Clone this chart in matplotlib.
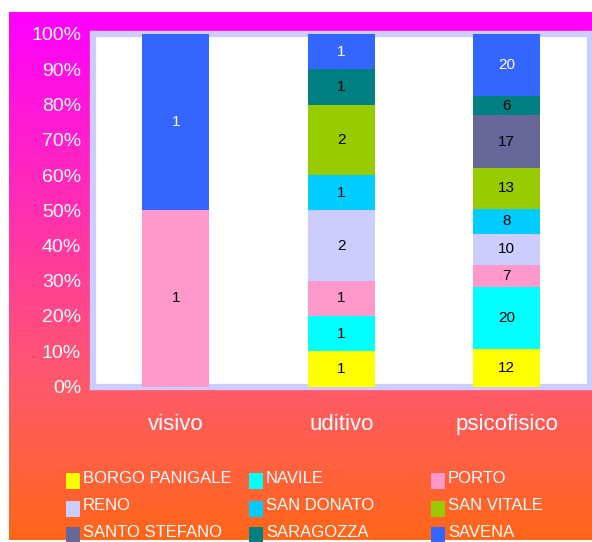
import numpy as np
import matplotlib
matplotlib.use('Agg')
import matplotlib.pyplot as plt
from matplotlib.colors import LinearSegmentedColormap
from matplotlib.patches import Rectangle

categories = ['visivo', 'uditivo', 'psicofisico']
zones = ['BORGO PANIGALE', 'NAVILE', 'PORTO', 'RENO', 'SAN DONATO',
         'SAN VITALE', 'SANTO STEFANO', 'SARAGOZZA', 'SAVENA']

# conteggi per zona (visivo, uditivo, psicofisico)
borgo_panigale = [0, 1, 12]
navile = [0, 1, 20]
porto = [1, 1, 7]
reno = [0, 2, 10]
san_donato = [0, 1, 8]
san_vitale = [0, 2, 13]
santo_stefano = [0, 0, 17]
saragozza = [0, 1, 6]
savena = [1, 1, 20]

colors = ['#FFFF00', '#00FFFF', '#FF99CC', '#CCCCFF', '#00CCFF',
          '#99CC00', '#666699', '#008080', '#3366FF']

series = [borgo_panigale, navile, porto, reno, san_donato,
          san_vitale, santo_stefano, saragozza, savena]

W, H = 592, 542
plt.rcParams['font.family'] = ['Liberation Sans', 'DejaVu Sans']


def px(x0, y0, x1, y1):
    return [x0 / W, 1 - y1 / H, (x1 - x0) / W, (y1 - y0) / H]


fig = plt.figure(figsize=(W / 100, H / 100), dpi=100)

# sfondo sfumato
bg = fig.add_axes(px(9, 12, 592, 540), zorder=-5)
cmap = LinearSegmentedColormap.from_list(
    'bg', [(0, '#FF00FF'), (0.71, '#FF5A6A'), (1, '#FF6618')])
bg.imshow(np.linspace(0, 1, 256).reshape(-1, 1), aspect='auto', cmap=cmap,
          extent=[0, 1, 0, 1], origin='upper')
bg.axis('off')

ax = fig.add_axes(px(93, 34, 589.5, 386.5))
ax.set_facecolor('white')
for s in ax.spines.values():
    s.set_color('#CCCCFF')
    s.set_linewidth(4.5)
    s.set_zorder(1)

data = np.array(series, dtype=float)
pct = data / data.sum(axis=0) * 100
x = np.arange(len(categories))
bottom = np.zeros(len(categories))
for i, name in enumerate(zones):
    bars = ax.bar(x, pct[i], 0.405, bottom=bottom, color=colors[i],
                  zorder=2, label=name)
    labels = [str(int(v)) if v else '' for v in data[i]]
    ax.bar_label(bars, labels=labels, label_type='center', fontsize=11,
                 color='white' if name == 'SAVENA' else 'black', zorder=3)
    bottom += pct[i]

ax.set_xlim(-0.5, 2.5)
ax.set_ylim(0, 100)
ax.set_yticks(range(0, 101, 10))
ax.set_yticklabels([f'{v}%' for v in range(0, 101, 10)])
ax.set_xticks(x)
ax.set_xticklabels(categories)
ax.tick_params(axis='y', length=0, colors='white', labelsize=14, pad=8.6)
ax.tick_params(axis='x', length=0, colors='white', labelsize=16, pad=20)

# legenda a tre colonne
col_x = [66, 249, 431]
row_y = [489, 516.5, 543]
for i, name in enumerate(zones):
    cx = col_x[i % 3]
    ry = row_y[i // 3]
    fig.add_artist(Rectangle((cx / W, 1 - ry / H), 14 / W, 16 / H,
                             transform=fig.transFigure, color=colors[i],
                             lw=0))
    fig.text((cx + 17) / W, 1 - (ry - 6) / H, name, color='white',
             fontsize=12, va='baseline', ha='left')

fig.savefig('out.png', dpi=100)
